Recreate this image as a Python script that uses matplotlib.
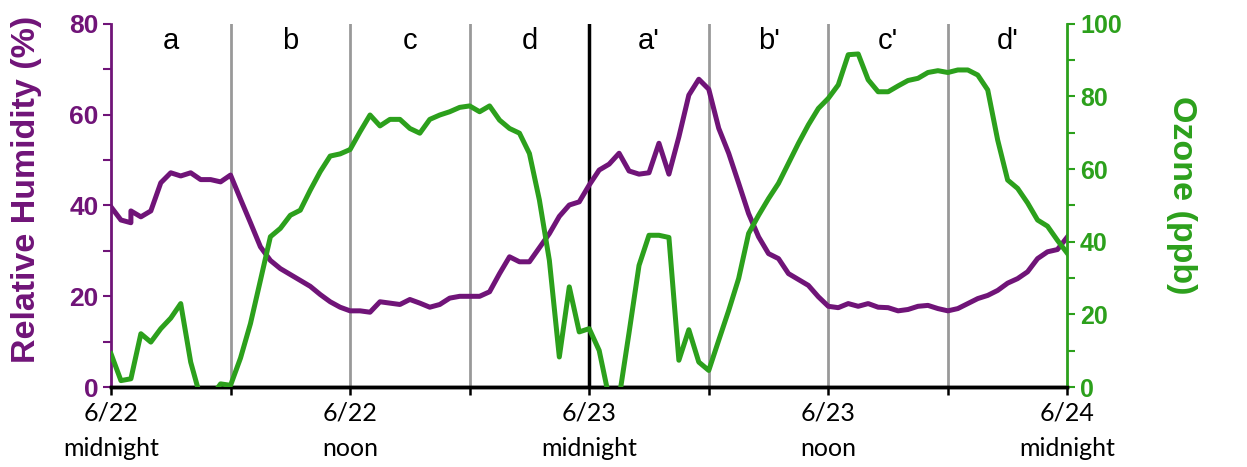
import matplotlib.pyplot as plt
from matplotlib.ticker import MultipleLocator

# hours since 6/22 midnight (half-hour readings)
rh_hours = [0, 0.5, 1.0, 1.0, 1.5, 2.0, 2.5, 3.0, 3.5, 4.0, 4.5, 5.0, 5.5, 6.0,
            6.5, 7.0, 7.5, 8.0, 8.5, 9.0, 9.5, 10.0, 10.5, 11.0, 11.5, 12.0,
            12.5, 13.0, 13.5, 14.0, 14.5, 15.0, 15.5, 16.0, 16.5, 17.0, 17.5,
            18.0, 18.5, 19.0, 19.5, 20.0, 20.5, 21.0, 21.5, 22.0, 22.5, 23.0,
            23.5, 24.0, 24.5, 25.0, 25.5, 26.0, 26.5, 27.0, 27.5, 28.0, 28.5,
            29.0, 29.5, 30.0, 30.5, 31.0, 31.5, 32.0, 32.5, 33.0, 33.5, 34.0,
            34.5, 35.0, 35.5, 36.0, 36.5, 37.0, 37.5, 38.0, 38.5, 39.0, 39.5,
            40.0, 40.5, 41.0, 41.5, 42.0, 42.5, 43.0, 43.5, 44.0, 44.5, 45.0,
            45.5, 46.0, 46.5, 47.0, 47.5, 48.0]
rh = [39.7, 36.8, 36.2, 38.8, 37.5, 38.8, 45.0, 47.2, 46.5, 47.2, 45.7, 45.7, 45.2, 46.7,
      41.4, 36.2, 30.9, 27.9, 26.1, 24.8, 23.5, 22.2, 20.4, 18.8, 17.6, 16.8,
      16.8, 16.5, 18.8, 18.5, 18.2, 19.3, 18.5, 17.6, 18.2, 19.6, 20.0,
      20.0, 20.0, 21.0, 25.0, 28.7, 27.6, 27.6, 30.7, 33.8, 37.6, 40.1,
      40.8, 44.5, 47.8, 49.1, 51.5, 47.6, 46.9, 47.2, 53.7, 46.9, 55.1,
      64.3, 67.8, 65.6, 57.0, 51.5, 44.9, 38.2, 33.1, 29.4, 28.3, 25.0,
      23.7, 22.4, 19.9, 17.8, 17.5, 18.4, 17.8, 18.4, 17.6, 17.5, 16.8,
      17.1, 17.8, 18.0, 17.3, 16.8, 17.3, 18.4, 19.5, 20.2, 21.3, 22.9,
      23.9, 25.4, 28.3, 29.8, 30.3, 33.1]

o3_hours = [i * 0.5 for i in range(97)]
o3 = [9.2, 1.8, 2.3, 14.7, 12.4, 16.1, 19.0, 23.0, 6.9, -3.0, -3.0, 0.9, 0.5,
      8.0, 17.5, 29.4, 41.4, 43.7, 47.3, 48.7, 54.2, 59.3, 63.6, 64.2, 65.4,
      70.3, 74.9, 71.9, 73.7, 73.7, 71.2, 69.9, 73.7, 74.9, 75.8, 77.0, 77.4,
      75.8, 77.4, 73.5, 71.2, 69.9, 64.3, 51.5, 34.9, 8.3, 27.6, 15.2, 16.1,
      10.1, -3.0, -3.0, 15.0, 33.5, 41.8, 41.8, 41.2, 7.4, 15.8, 6.9, 4.6,
      12.9, 21.1, 29.9, 42.3, 47.3, 51.9, 56.1, 61.6, 67.1, 72.2, 76.7, 79.5,
      83.2, 91.5, 91.7, 84.6, 81.3, 81.3, 82.9, 84.4, 85.0, 86.6, 87.1, 86.6,
      87.3, 87.3, 85.9, 81.8, 68.0, 57.0, 54.7, 50.7, 46.0, 44.3, 40.4, 36.8]

period_labels = ["a", "b", "c", "d", "a'", "b'", "c'", "d'"]
period_centers = [3, 9, 15, 21, 27, 33, 39, 45]
divider_hours = [6, 12, 18, 30, 36, 42]
tick_hours = [0, 12, 24, 36, 48]
tick_labels = ["6/22\nmidnight", "6/22\nnoon", "6/23\nmidnight", "6/23\nnoon", "6/24\nmidnight"]

PURPLE = "#701478"
GREEN = "#2ca01c"

plt.rcParams['font.family'] = ['Liberation Sans', 'DejaVu Sans']

fig = plt.figure(figsize=(12.47, 4.67), dpi=100)
ax1 = fig.add_axes([0.089, 0.171, 0.767, 0.778])
ax2 = ax1.twinx()

# period dividers
for h in divider_hours:
    ax1.axvline(h, color="#999999", lw=2, zorder=1)
ax1.axvline(24, color="black", lw=2.5, zorder=1)

ax1.plot(rh_hours, rh, color=PURPLE, lw=3.6, zorder=3, solid_joinstyle="round")
ax2.plot(o3_hours, o3, color=GREEN, lw=3.6, zorder=3, solid_joinstyle="round")

for lab, c in zip(period_labels, period_centers):
    ax1.text(c, 0.931, lab, transform=ax1.get_xaxis_transform(), ha="center",
             va="baseline", fontsize=21, color="black")

ax1.set_xlim(0, 48)
ax1.set_ylim(0, 80)
ax2.set_ylim(0, 100)

ax1.set_xticks(tick_hours)
ax1.set_xticklabels(tick_labels, fontfamily="Lato", fontsize=18, linespacing=1.7)
ax1.xaxis.set_minor_locator(MultipleLocator(6))
ax1.tick_params(axis="x", which="both", direction="out", length=6, width=1.8,
                color="black", pad=4)

ax1.yaxis.set_major_locator(MultipleLocator(20))
ax1.yaxis.set_minor_locator(MultipleLocator(10))
ax1.tick_params(axis="y", which="both", direction="out", length=6, width=1.5,
                colors=PURPLE, labelsize=19, pad=3)
for t in ax1.get_yticklabels():
    t.set_fontweight("bold")

ax2.yaxis.set_major_locator(MultipleLocator(20))
ax2.yaxis.set_minor_locator(MultipleLocator(10))
ax2.tick_params(axis="y", which="both", direction="out", length=6, width=1.5,
                colors=GREEN, labelsize=18, pad=3)
for t in ax2.get_yticklabels():
    t.set_fontweight("bold")

ax1.set_ylabel("Relative Humidity (%)", color=PURPLE, fontsize=24.5, fontweight="bold")
ax1.yaxis.set_label_coords(-0.072, 0.543)
ax2.set_ylabel("Ozone (ppb)", color=GREEN, fontsize=24.5, fontweight="bold",
               rotation=270, va="center")
ax2.yaxis.set_label_coords(1.119, 0.529)

for ax in (ax1, ax2):
    ax.spines["top"].set_visible(False)
    ax.spines["bottom"].set_color("black")
    ax.spines["bottom"].set_linewidth(2.5)
ax1.spines["right"].set_visible(False)
ax1.spines["left"].set_color(PURPLE)
ax1.spines["left"].set_linewidth(2)
ax2.spines["left"].set_visible(False)
ax2.spines["right"].set_color(GREEN)
ax2.spines["right"].set_linewidth(2)

fig.savefig("out.png", dpi=100)
